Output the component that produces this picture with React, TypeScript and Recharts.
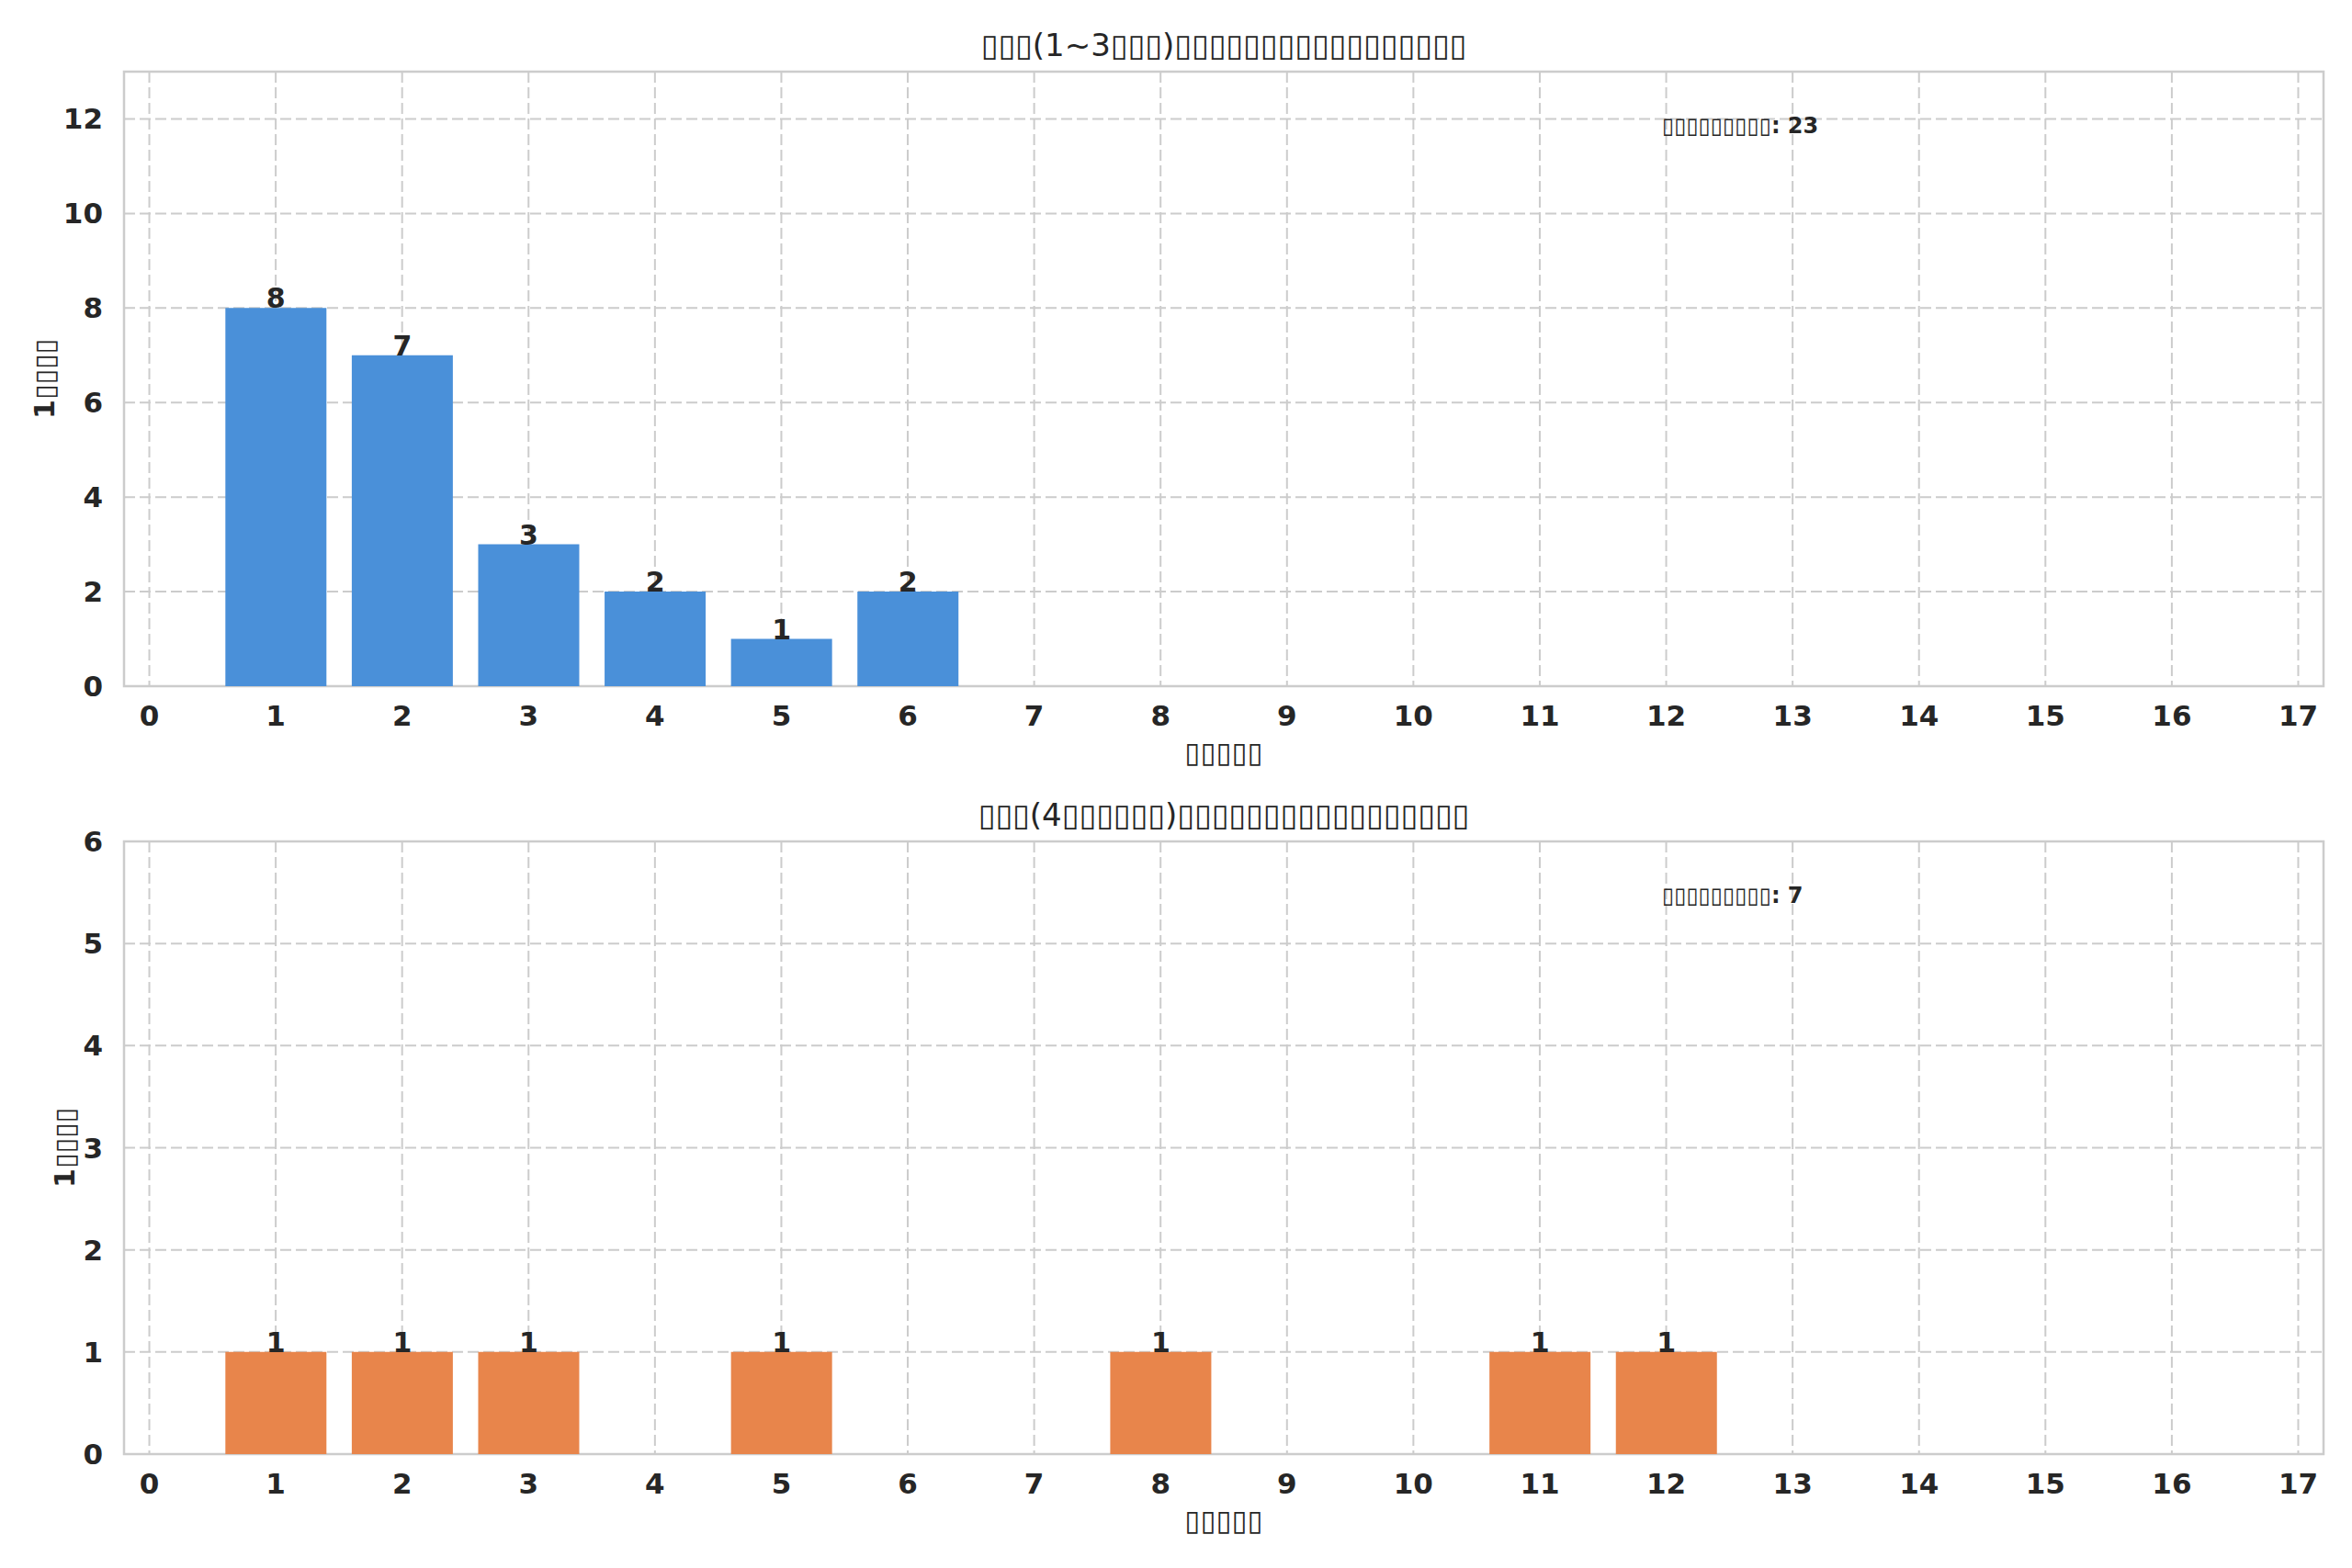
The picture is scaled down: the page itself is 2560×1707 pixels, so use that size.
import React from 'react';
import { BarChart, Bar, XAxis, YAxis, CartesianGrid, LabelList, ReferenceArea } from 'recharts';

// histogram bins and counts
const topBins = [1, 2, 3, 4, 5, 6];
const topCounts = [8, 7, 3, 2, 1, 2];
const bottomBins = [1, 2, 3, 5, 8, 11, 12];
const bottomCounts = [1, 1, 1, 1, 1, 1, 1];

const xTicks = [0, 1, 2, 3, 4, 5, 6, 7, 8, 9, 10, 11, 12, 13, 14, 15, 16, 17];
const topYTicks = [0, 2, 4, 6, 8, 10, 12];
const bottomYTicks = [0, 1, 2, 3, 4, 5, 6];

// the original labels were drawn with missing glyphs, so they show as boxes
const topTitle = '▯▯▯(1~3▯▯▯)▯▯▯▯▯▯▯▯▯▯▯▯▯▯▯▯▯';
const bottomTitle = '▯▯▯(4▯▯▯▯▯▯)▯▯▯▯▯▯▯▯▯▯▯▯▯▯▯▯▯';
const xLabel = '▯▯▯▯▯';
const yLabel = '1▯▯▯▯';
const notePrefix = '▯▯▯▯▯▯▯▯▯';

const FONT = 'DejaVu Sans';
const INK = '#262626';
const GRID = '#cccccc';

type PanelProps = {
  bins: number[];
  counts: number[];
  color: string;
  yMax: number;
  yTicks: number[];
  height: number;
  marginTop: number;
  axisHeight: number;
  yLabelX: number;
};

const Panel: React.FC<PanelProps> = ({ bins, counts, color, yMax, yTicks, height, marginTop, axisHeight, yLabelX }) => {
  const data = bins.map((b, i) => ({ bin: b, count: counts[i] }));
  const tickStyle = { fill: INK, fontSize: 31, fontWeight: 'bold' as const, fontFamily: FONT };

  const renderYLabel = (props: any) => {
    const vb = props.viewBox || {};
    const cy = vb.y + vb.height / 2;
    return (
      <text
        x={yLabelX}
        y={cy}
        transform={`rotate(-90, ${yLabelX}, ${cy})`}
        textAnchor="middle"
        dominantBaseline="central"
        fill={INK}
        fontSize={30}
        fontWeight="bold"
        fontFamily={FONT}
      >
        {yLabel}
      </text>
    );
  };

  return (
    <BarChart width={2560} height={height} data={data} margin={{ top: marginTop, right: 31, bottom: 0, left: 0 }}>
      <CartesianGrid stroke={GRID} strokeWidth={2} strokeDasharray="12 5" />
      <XAxis
        dataKey="bin"
        type="number"
        domain={[-0.2, 17.2]}
        ticks={xTicks}
        allowDataOverflow
        interval={0}
        height={axisHeight}
        axisLine={false}
        tickLine={false}
        tickSize={0}
        tickMargin={21}
        tick={tickStyle}
        label={{ value: xLabel, position: 'insideBottom', offset: axisHeight - 83, fill: INK, fontSize: 31, fontFamily: FONT }}
      />
      <YAxis
        type="number"
        domain={[0, yMax]}
        ticks={yTicks}
        allowDataOverflow
        interval={0}
        width={135}
        axisLine={false}
        tickLine={false}
        tickSize={0}
        tickMargin={23}
        tick={tickStyle}
        label={{ content: renderYLabel }}
      />
      <ReferenceArea x1={-0.2} x2={17.2} y1={0} y2={yMax} fill="none" stroke={GRID} strokeWidth={2.5} />
      <Bar dataKey="count" fill={color} barSize={110} isAnimationActive={false}>
        <LabelList dataKey="count" position="top" offset={0} fill={INK} fontSize={30} fontWeight="bold" fontFamily={FONT} />
      </Bar>
    </BarChart>
  );
};

const sum = (arr: number[]) => arr.reduce((a, b) => a + b, 0);

const titleStyle: React.CSSProperties = {
  position: 'absolute',
  left: 135,
  width: 2394,
  textAlign: 'center',
  fontSize: 34,
  lineHeight: '40px',
  color: INK,
  fontFamily: FONT,
};

const noteStyle: React.CSSProperties = {
  position: 'absolute',
  left: 1809,
  fontSize: 24,
  lineHeight: '30px',
  fontWeight: 'bold',
  color: INK,
  fontFamily: FONT,
  whiteSpace: 'nowrap',
};

export default function App() {
  return (
    <div style={{ position: 'absolute', left: 0, top: 0, width: 2560, height: 1707, background: '#ffffff', overflow: 'hidden' }}>
      <div style={{ position: 'absolute', left: 0, top: 0 }}>
        <Panel bins={topBins} counts={topCounts} color="#4a90d9" yMax={13} yTicks={topYTicks}
          height={853} marginTop={78} axisHeight={106} yLabelX={48} />
      </div>
      <div style={{ position: 'absolute', left: 0, top: 853 }}>
        <Panel bins={bottomBins} counts={bottomCounts} color="#e8854b" yMax={6} yTicks={bottomYTicks}
          height={854} marginTop={63} axisHeight={124} yLabelX={70} />
      </div>
      <div style={{ ...titleStyle, top: 29 }}>{topTitle}</div>
      <div style={{ ...titleStyle, top: 867 }}>{bottomTitle}</div>
      <div style={{ ...noteStyle, top: 122 }}>{notePrefix}: {sum(topCounts)}</div>
      <div style={{ ...noteStyle, top: 960 }}>{notePrefix}: {sum(bottomCounts)}</div>
    </div>
  );
}
